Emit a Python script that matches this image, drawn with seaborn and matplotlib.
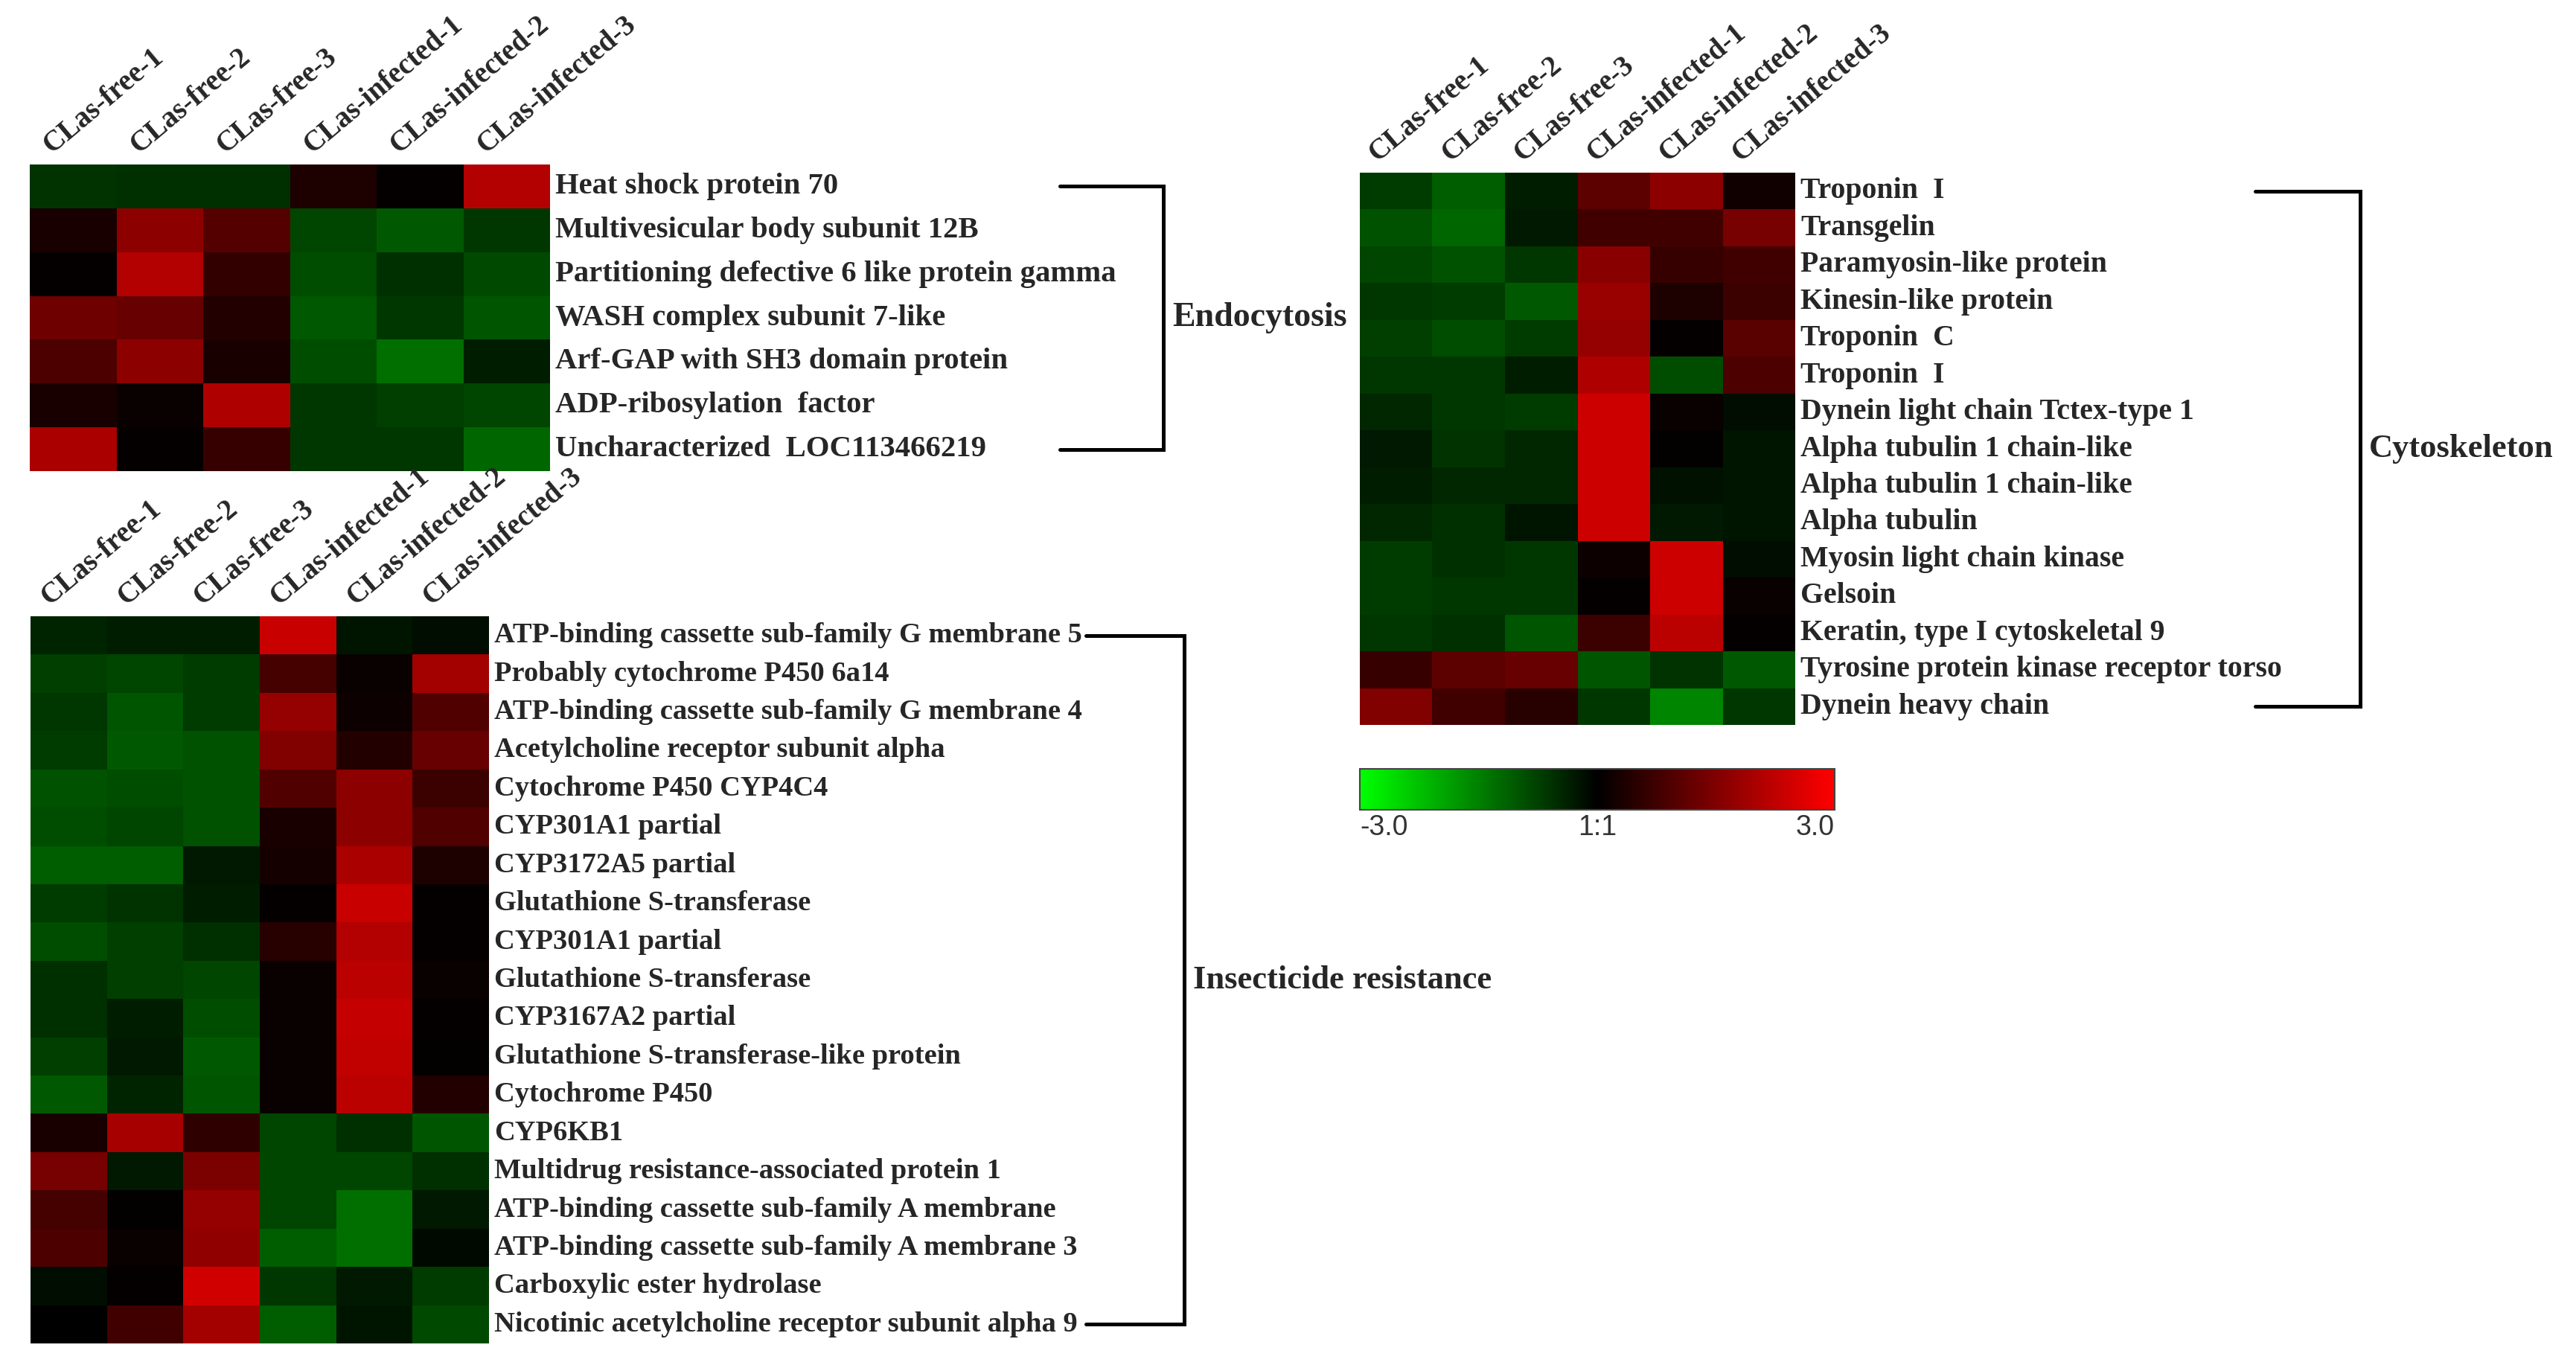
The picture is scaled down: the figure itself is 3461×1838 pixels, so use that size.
import numpy as np
import pandas as pd
import matplotlib
matplotlib.use('Agg')
import matplotlib.pyplot as plt
import matplotlib.transforms as mtransforms
from matplotlib.colors import LinearSegmentedColormap
import seaborn as sns

sns.set_style('white')
plt.rcParams['font.family'] = ['Liberation Serif', 'DejaVu Serif']

# Samples (columns of every heatmap)
samples = ['CLas-free-1', 'CLas-free-2', 'CLas-free-3',
           'CLas-infected-1', 'CLas-infected-2', 'CLas-infected-3']

# Endocytosis
endo_genes = ['Heat shock protein 70',
              'Multivesicular body subunit 12B',
              'Partitioning defective 6 like protein gamma',
              'WASH complex subunit 7-like',
              'Arf-GAP with SH3 domain protein',
              'ADP-ribosylation  factor',
              'Uncharacterized  LOC113466219']
endo_values = [[-0.60, -0.55, -0.55, 0.35, 0.05, 2.10],
               [0.30, 1.65, 1.00, -0.80, -1.05, -0.65],
               [0.05, 2.10, 0.60, -0.90, -0.55, -0.85],
               [1.30, 1.20, 0.40, -1.05, -0.65, -1.00],
               [0.90, 1.65, 0.30, -0.90, -1.30, -0.35],
               [0.30, 0.10, 2.05, -0.65, -0.75, -0.80],
               [2.00, 0.05, 0.65, -0.65, -0.65, -1.20]]

# Insecticide resistance
insect_genes = ['ATP-binding cassette sub-family G membrane 5',
                'Probably cytochrome P450 6a14',
                'ATP-binding cassette sub-family G membrane 4',
                'Acetylcholine receptor subunit alpha',
                'Cytochrome P450 CYP4C4',
                'CYP301A1 partial',
                'CYP3172A5 partial',
                'Glutathione S-transferase',
                'CYP301A1 partial',
                'Glutathione S-transferase',
                'CYP3167A2 partial',
                'Glutathione S-transferase-like protein',
                'Cytochrome P450',
                'CYP6KB1',
                'Multidrug resistance-associated protein 1',
                'ATP-binding cassette sub-family A membrane',
                'ATP-binding cassette sub-family A membrane 3',
                'Carboxylic ester hydrolase',
                'Nicotinic acetylcholine receptor subunit alpha 9']
insect_values = [[-0.40, -0.33, -0.35, 2.35, -0.25, -0.15],
                 [-0.75, -0.80, -0.70, 0.80, 0.10, 1.90],
                 [-0.65, -1.00, -0.70, 1.75, 0.15, 0.95],
                 [-0.70, -1.05, -0.95, 1.50, 0.40, 1.20],
                 [-0.95, -0.90, -0.95, 0.95, 1.65, 0.70],
                 [-0.90, -0.80, -0.95, 0.30, 1.65, 0.95],
                 [-1.10, -1.10, -0.30, 0.25, 2.00, 0.35],
                 [-0.70, -0.60, -0.35, 0.05, 2.35, 0.05],
                 [-0.90, -0.75, -0.55, 0.45, 2.10, 0.05],
                 [-0.55, -0.75, -0.80, 0.10, 2.20, 0.10],
                 [-0.55, -0.35, -0.90, 0.10, 2.30, 0.05],
                 [-0.75, -0.30, -1.05, 0.10, 2.25, 0.03],
                 [-1.05, -0.40, -1.00, 0.10, 2.20, 0.40],
                 [0.30, 1.95, 0.55, -0.80, -0.55, -1.00],
                 [1.40, -0.30, 1.45, -0.80, -0.80, -0.55],
                 [0.80, 0.03, 1.75, -0.80, -1.30, -0.30],
                 [0.90, 0.10, 1.70, -1.10, -1.30, -0.10],
                 [-0.15, 0.05, 2.45, -0.65, -0.30, -0.70],
                 [0.02, 0.75, 1.90, -1.10, -0.25, -0.85]]

# Cytoskeleton
cyto_genes = ['Troponin  I',
              'Transgelin',
              'Paramyosin-like protein',
              'Kinesin-like protein',
              'Troponin  C',
              'Troponin  I',
              'Dynein light chain Tctex-type 1',
              'Alpha tubulin 1 chain-like',
              'Alpha tubulin 1 chain-like',
              'Alpha tubulin',
              'Myosin light chain kinase',
              'Gelsoin',
              'Keratin, type I cytoskeletal 9',
              'Tyrosine protein kinase receptor torso',
              'Dynein heavy chain']
cyto_values = [[-0.70, -1.10, -0.35, 1.10, 1.65, 0.20],
               [-0.95, -1.20, -0.30, 0.75, 0.75, 1.40],
               [-0.80, -0.95, -0.65, 1.60, 0.65, 0.75],
               [-0.65, -0.70, -1.05, 1.80, 0.35, 0.70],
               [-0.75, -0.90, -0.70, 1.75, 0.05, 1.05],
               [-0.65, -0.65, -0.35, 2.05, -0.90, 0.90],
               [-0.45, -0.65, -0.70, 2.40, 0.10, -0.15],
               [-0.30, -0.60, -0.45, 2.40, 0.03, -0.25],
               [-0.35, -0.45, -0.45, 2.40, -0.20, -0.25],
               [-0.45, -0.55, -0.25, 2.40, -0.30, -0.25],
               [-0.70, -0.55, -0.65, 0.15, 2.40, -0.15],
               [-0.70, -0.65, -0.65, 0.05, 2.40, 0.10],
               [-0.65, -0.55, -1.00, 0.70, 2.20, 0.05],
               [0.65, 1.10, 1.20, -1.00, -0.60, -1.05],
               [1.50, 0.75, 0.45, -0.65, -1.55, -0.65]]

cbar_ticks = [-3, 0, 3]
cbar_labels = ['-3.0', '1:1', '3.0']

cmap = LinearSegmentedColormap.from_list('green_black_red', ['#00ff00', '#000000', '#ff0000'])

W, H = 3461, 1838
fig = plt.figure(figsize=(W / 100, H / 100), dpi=100)


def px_axes(x0, y0, x1, y1):
    """Axes placed by pixel box (origin top-left)"""
    return fig.add_axes([x0 / W, 1 - y1 / H, (x1 - x0) / W, (y1 - y0) / H])


def draw_block(ax, genes, values, label_size, col_size, bracket_x, group, group_size):
    df = pd.DataFrame(values, index=genes, columns=samples)
    sns.heatmap(df, ax=ax, cmap=cmap, vmin=-3, vmax=3, cbar=False, linewidths=0)
    ax.xaxis.tick_top()
    ax.yaxis.tick_right()
    ax.set_xticks(np.arange(len(samples)) + 0.3)
    ax.set_xticklabels(samples, rotation=40, ha='left', va='bottom',
                       rotation_mode='anchor', fontsize=col_size, fontweight='bold')
    ax.set_yticks(np.arange(len(genes)) + 0.5)
    ax.set_yticklabels(genes, rotation=0, ha='left', va='center',
                       fontsize=label_size, fontweight='bold')
    ax.tick_params(length=0, pad=5)
    ax.set_xlabel('')
    ax.set_ylabel('')

    # group bracket, ends at first and last row centres
    tr = mtransforms.blended_transform_factory(fig.transFigure, ax.transData)
    x0, x1 = bracket_x[0] / W, bracket_x[1] / W
    top, bot = 0.5, len(genes) - 0.5
    ax.plot([x0, x1, x1, x0], [top, top, bot, bot], color='black', lw=3.6,
            transform=tr, clip_on=False, solid_joinstyle='miter')
    ax.text(x1 + 12 / W, len(genes) / 2, group, transform=tr, ha='left', va='center',
            fontsize=group_size, fontweight='bold')


ax_endo = px_axes(40, 221, 739, 633)
draw_block(ax_endo, endo_genes, endo_values, 29.3, 28, (1424, 1563), 'Endocytosis', 33)

ax_ins = px_axes(41, 828, 657, 1805)
draw_block(ax_ins, insect_genes, insect_values, 27.7, 28, (1459, 1591), 'Insecticide resistance', 32)

ax_cyto = px_axes(1827, 232, 2412, 974)
draw_block(ax_cyto, cyto_genes, cyto_values, 28.6, 28, (3030, 3171), 'Cytoskeleton', 32)

# colour key
cax = px_axes(1827, 1033, 2465, 1088)
cb = fig.colorbar(ax_endo.collections[0], cax=cax, orientation='horizontal')
cb.set_ticks(cbar_ticks)
cb.set_ticklabels(cbar_labels)
cb.outline.set_edgecolor('#444444')
cb.outline.set_linewidth(1.5)
cax.tick_params(length=0, pad=4)
for lbl, ha in zip(cax.get_xticklabels(), ['left', 'center', 'right']):
    lbl.set_ha(ha)
    lbl.set_fontfamily('Liberation Sans')
    lbl.set_fontsize(27)
    lbl.set_color('#333333')

fig.savefig('out.png', dpi=100)
plt.close(fig)
